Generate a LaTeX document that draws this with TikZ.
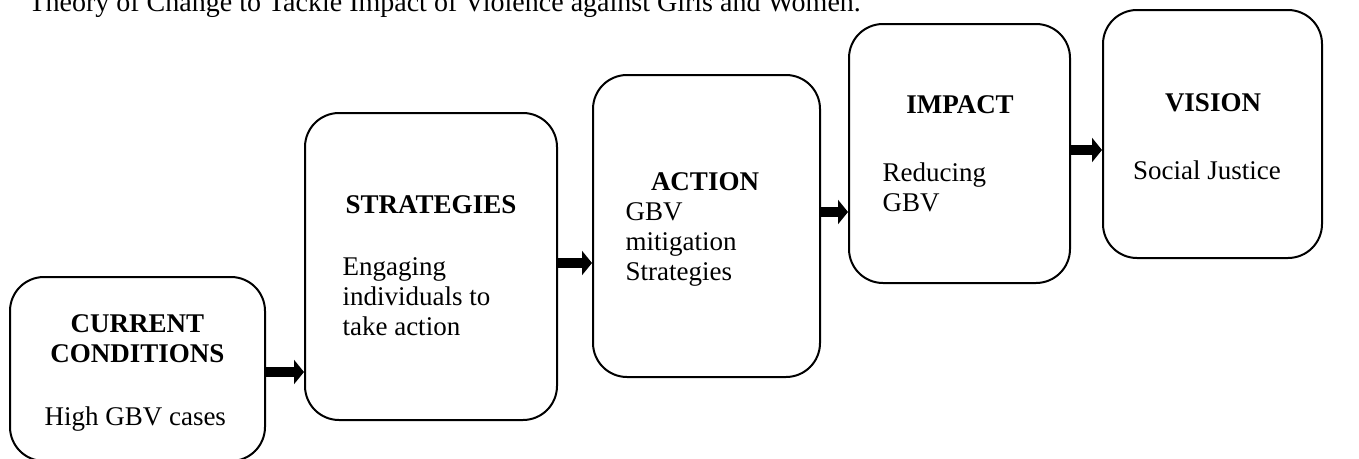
\documentclass[tikz,border=0pt]{standalone}
\usepackage{fontspec}
\setmainfont{Liberation Serif}
\usetikzlibrary{arrows.meta}
\tikzset{
  stage/.style={rectangle,draw,line width=2pt,rounded corners=34pt,inner sep=0pt},
  flow/.style={line width=10pt,-{Triangle[length=10pt,width=24pt]}},
  heading/.style={anchor=base,align=center,font=\bfseries\fontsize{27}{30}\selectfont},
  body/.style={anchor=base west,align=left,font=\fontsize{27}{30}\selectfont},
}
\begin{document}
\begin{tikzpicture}[x=1pt,y=1pt]
            \clip (0,0) rectangle (1359,-458);
            %
            \node[anchor=base west,font=\fontsize{28}{32}\selectfont] (title) at (25,-11) {Theory of Change to Tackle Impact of Violence against Girls and Women.};
            %
            \node[stage,minimum width=255,minimum height=184] (current) at (137.5,-369) {};
            \node[stage,minimum width=252,minimum height=307] (strategies) at (431,-266.5) {};
            \node[stage,minimum width=227,minimum height=302] (action) at (706.5,-226) {};
            \node[stage,minimum width=221,minimum height=259] (impact) at (959.5,-153.5) {};
            \node[stage,minimum width=219,minimum height=248] (vision) at (1212.5,-134) {};
            %
            % multi-line nodes sit on their last line
            \node[heading] (currenthead) at (137.5,-362) {CURRENT\\CONDITIONS};
            \node[body] (currenttext) at (41,-425) {High GBV cases};
            \node[heading] (strategieshead) at (431,-213) {STRATEGIES};
            \node[body] (strategiestext) at (339,-335) {Engaging\\individuals to\\take action};
            \node[heading] (actionhead) at (705,-190) {ACTION};
            \node[body] (actiontext) at (622,-280) {GBV\\mitigation\\Strategies};
            \node[heading] (impacthead) at (960,-113) {IMPACT};
            \node[body] (impacttext) at (879,-211) {Reducing\\GBV};
            \node[heading] (visionhead) at (1213,-111) {VISION};
            \node[heading] (visiontext) at (1207,-179) {\mdseries Social Justice};
            %
            \coordinate (a1) at ([yshift=-3pt]current.east);
            \coordinate (a2) at ([yshift=3.5pt]strategies.east);
            \coordinate (a3) at ([yshift=14pt]action.east);
            \coordinate (a4) at ([yshift=3.5pt]impact.east);
            \draw[flow] (a1) -- (a1 -| strategies.west);
            \draw[flow] (a2) -- (a2 -| action.west);
            \draw[flow] (a3) -- (a3 -| impact.west);
            \draw[flow] (a4) -- (a4 -| vision.west);
            %
\end{tikzpicture}
\end{document}
